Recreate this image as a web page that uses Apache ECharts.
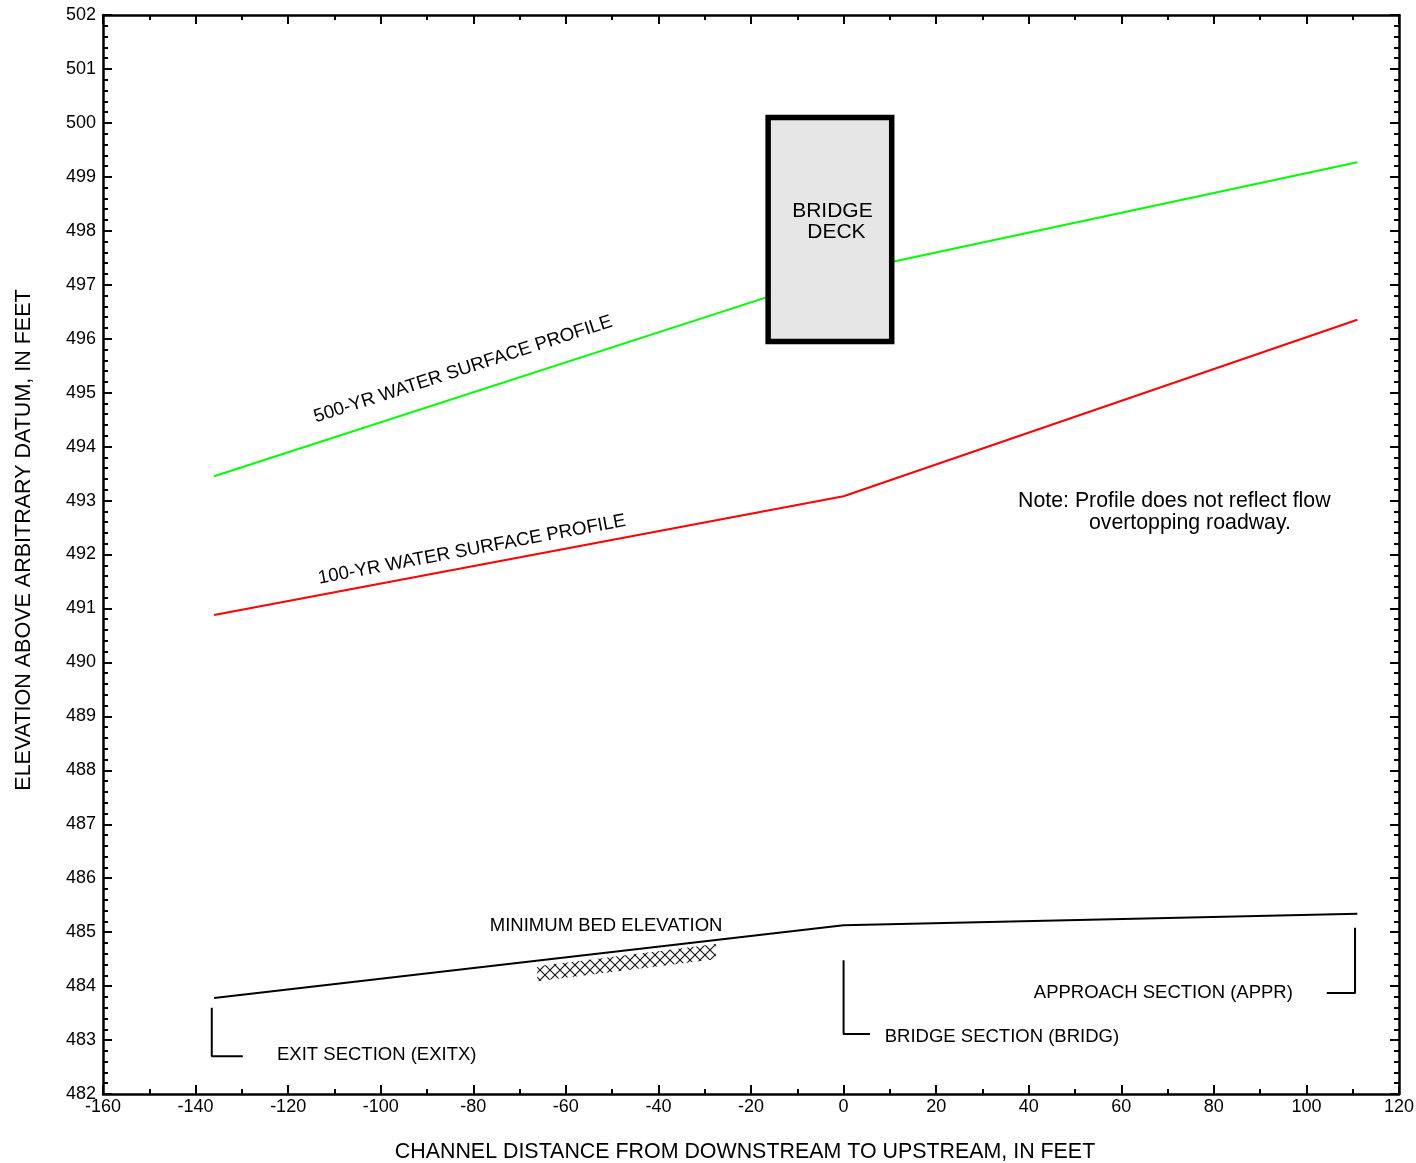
<!DOCTYPE html>
<html>
<head>
<meta charset="utf-8">
<script src="https://cdn.jsdelivr.net/npm/echarts@6/dist/echarts.min.js"></script>
<style>
  html, body { margin: 0; padding: 0; background: #fff; }
  #chart { width: 1416px; height: 1163px; }
</style>
</head>
<body>
<div id="chart"></div>
<script>
// Stations (ft, downstream to upstream) of the exit, bridge and approach sections
const stations = [-136, 0, 111];
// Water-surface and bed elevations at each station (ft)
const ws500 = [493.45, 497.23, 499.27];
const ws100 = [490.88, 493.08, 496.35];
const minBed = [483.78, 485.13, 485.34];

// Bridge deck: stations of its faces and low/high chord elevations
const deckX = [-16.3, 10.4];
const deckY = [495.95, 500.1];

// Scour band below the bed (corner stations / elevations)
const scourX = [-66.2, -27.6, -27.6, -66.2];
const scourY = [484.37, 484.78, 484.50, 484.09];

// Section leader brackets: [vertical station, top, bottom, horizontal end]
const exitLeader = [-136.5, 483.6, 482.7, -129.8];
const bridgeLeader = [0, 484.48, 483.11, 5.7];
const apprLeader = [110.5, 485.08, 483.87, 104.4];

// Axis ranges
const xRange = [-160, 120];
const yRange = [482, 502];

// Free text annotations placed in data units
const noteText = ['Note: Profile does not reflect flow', 'overtopping roadway.'];
const noteX = [37.7, 53.0];
const noteY = [492.99, 492.58];
const sectionText = ['EXIT SECTION (EXITX)', 'BRIDGE SECTION (BRIDG)', 'APPROACH SECTION (APPR)', 'MINIMUM BED ELEVATION'];
const sectionX = [-122.4, 8.9, 41.1, -51.3];
const sectionY = [482.72, 483.05, 483.87, 485.11];
const profileText = ['500-YR WATER SURFACE PROFILE', '100-YR WATER SURFACE PROFILE'];
const profileX = [-82.2, -80.3];
const profileY = [495.43, 492.09];

const FONT = 'Liberation Sans, Arial, Helvetica, sans-serif';

function pairs(xs, ys) { return xs.map((x, i) => [x, ys[i]]); }
function leader(l) { return [[l[0], l[1]], [l[0], l[2]], [l[3], l[2]]]; }

// Cross-hatch tile for the scour band
const hatch = document.createElement('canvas');
hatch.width = 10; hatch.height = 10;
(function () {
  const c = hatch.getContext('2d');
  c.strokeStyle = '#111';
  c.lineWidth = 1.1;
  c.beginPath();
  c.moveTo(0, 0); c.lineTo(10, 10);
  c.moveTo(10, 0); c.lineTo(0, 10);
  c.stroke();
})();

const chart = echarts.init(document.getElementById('chart'), null, { renderer: 'canvas' });

const tickStyle = { color: '#000', width: 2 };
function xAxisDef(pos, labels) {
  return {
    type: 'value', position: pos, min: xRange[0], max: xRange[1], interval: 20,
    axisLine: { show: true, onZero: false, lineStyle: { color: '#000', width: 2.5 } },
    axisTick: { show: true, inside: true, length: 9, lineStyle: tickStyle },
    minorTick: { show: true, splitNumber: 2, length: 5, lineStyle: tickStyle },
    splitLine: { show: false },
    axisLabel: { show: labels, color: '#000', fontSize: 18, fontFamily: FONT, margin: 4 },
    name: labels ? 'CHANNEL DISTANCE FROM DOWNSTREAM TO UPSTREAM, IN FEET' : '',
    nameLocation: 'middle', nameGap: 48,
    nameTextStyle: { color: '#000', fontSize: 21.4, fontFamily: FONT, padding: [0, 12, 0, 0] }
  };
}
function yAxisDef(pos, labels) {
  return {
    type: 'value', position: pos, min: yRange[0], max: yRange[1], interval: 1,
    axisLine: { show: true, onZero: false, lineStyle: { color: '#000', width: 2.5 } },
    axisTick: { show: true, inside: true, length: 9, lineStyle: tickStyle },
    minorTick: { show: true, splitNumber: 5, length: 5, lineStyle: tickStyle },
    splitLine: { show: false },
    axisLabel: { show: labels, color: '#000', fontSize: 18, fontFamily: FONT, margin: 7 }
  };
}

const option = {
  backgroundColor: '#fff',
  animation: false,
  grid: { left: 103, top: 15, right: 17, bottom: 69, containLabel: false, outerBoundsMode: 'none' },
  xAxis: [xAxisDef('bottom', true), xAxisDef('top', false)],
  yAxis: [yAxisDef('left', true), yAxisDef('right', false)],
  graphic: [{
    type: 'text', x: 24, y: 540, rotation: Math.PI / 2,
    style: {
      text: 'ELEVATION ABOVE ARBITRARY DATUM, IN FEET', fill: '#000',
      font: '21.5px ' + FONT, align: 'center', verticalAlign: 'middle'
    }
  }],
  series: [
    {
      name: '500-yr', type: 'line', data: pairs(stations, ws500), symbol: 'none',
      lineStyle: { color: '#00ff00', width: 2 }, z: 2, silent: true
    },
    {
      name: '100-yr', type: 'line', data: pairs(stations, ws100), symbol: 'none',
      lineStyle: { color: '#ff0000', width: 2 }, z: 2, silent: true
    },
    {
      name: 'Minimum bed', type: 'line', data: pairs(stations, minBed), symbol: 'none',
      lineStyle: { color: '#000', width: 2 }, z: 2, silent: true
    },
    // Scour band
    {
      type: 'custom', z: 3, silent: true, data: [0],
      renderItem: function (params, api) {
        const pts = scourX.map((x, i) => api.coord([x, scourY[i]]));
        return {
          type: 'polygon', shape: { points: pts },
          style: { fill: { image: hatch, repeat: 'repeat' }, stroke: null }
        };
      }
    },
    // Section leaders
    ...[exitLeader, bridgeLeader, apprLeader].map(l => ({
      type: 'line', data: leader(l), symbol: 'none', silent: true,
      lineStyle: { color: '#000', width: 2 }, z: 3
    })),
    // Bridge deck
    {
      type: 'custom', z: 5, silent: true, data: [0],
      renderItem: function (params, api) {
        const p0 = api.coord([deckX[0], deckY[1]]);
        const p1 = api.coord([deckX[1], deckY[0]]);
        const cx = (p0[0] + p1[0]) / 2, cy = (p0[1] + p1[1]) / 2;
        return {
          type: 'group', children: [
            {
              type: 'rect', shape: { x: p0[0], y: p0[1], width: p1[0] - p0[0], height: p1[1] - p0[1] },
              style: { fill: '#e6e6e6', stroke: '#000', lineWidth: 5.5 }
            },
            {
              type: 'text', x: cx + 2.5, y: cy - 18,
              style: { text: 'BRIDGE', font: '21px ' + FONT, fill: '#000', align: 'center', verticalAlign: 'middle' }
            },
            {
              type: 'text', x: cx + 6.5, y: cy + 3,
              style: { text: 'DECK', font: '21px ' + FONT, fill: '#000', align: 'center', verticalAlign: 'middle' }
            }
          ]
        };
      }
    },
    // Text annotations
    {
      type: 'custom', z: 6, silent: true, data: [0],
      renderItem: function (params, api) {
        const kids = [];
        noteText.forEach((t, i) => {
          const p = api.coord([noteX[i], noteY[i]]);
          kids.push({ type: 'text', x: p[0], y: p[1],
            style: { text: t, font: '21.3px ' + FONT, fill: '#000', align: 'left', verticalAlign: 'middle' } });
        });
        sectionText.forEach((t, i) => {
          const p = api.coord([sectionX[i], sectionY[i]]);
          kids.push({ type: 'text', x: p[0], y: p[1],
            style: { text: t, font: '18.5px ' + FONT, fill: '#000',
              align: i === 3 ? 'center' : 'left', verticalAlign: 'middle' } });
        });
        const profiles = [ws500, ws100];
        profileText.forEach((t, i) => {
          const a = api.coord([stations[0], profiles[i][0]]);
          const b = api.coord([stations[1], profiles[i][1]]);
          const ang = Math.atan2(a[1] - b[1], b[0] - a[0]);
          const p = api.coord([profileX[i], profileY[i]]);
          kids.push({ type: 'text', x: p[0], y: p[1], rotation: ang,
            style: { text: t, font: '18.7px ' + FONT, fill: '#000', align: 'center', verticalAlign: 'middle' } });
        });
        return { type: 'group', children: kids };
      }
    }
  ]
};

chart.setOption(option);
</script>
</body>
</html>
